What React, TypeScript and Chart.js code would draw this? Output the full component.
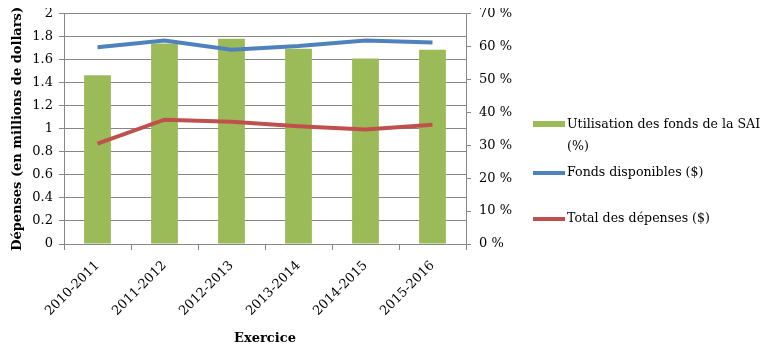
import React, { useEffect, useRef } from "react";
import { Chart, registerables } from "chart.js";

Chart.register(...registerables);

const categories = ["2010-2011", "2011-2012", "2012-2013", "2013-2014", "2014-2015", "2015-2016"];
const utilisationPct = [51.3, 61.0, 62.4, 59.4, 56.4, 59.1];
const fondsDisponibles = [1.71, 1.767, 1.687, 1.72, 1.767, 1.75];
const totalDepenses = [0.873, 1.08, 1.063, 1.023, 0.994, 1.037];
const leftTicks = ["0", "0.2", "0.4", "0.6", "0.8", "1", "1.2", "1.4", "1.6", "1.8", "2"];

const GREEN = "#9BBB59";
const BLUE = "#4F81BD";
const RED = "#C0504D";
const GRID = "#868686";
const FONT = "'DejaVu Serif', serif";

// canvas origin is at page (0, -2)
const legendPlugin = {
  id: "customLegend",
  afterDraw(chart: any) {
    const ctx = chart.ctx;
    ctx.save();
    ctx.font = `12.6px ${FONT}`;
    ctx.fillStyle = "#000";
    ctx.textBaseline = "middle";
    ctx.textAlign = "left";
    const x0 = 533;
    const tx = 567;
    const dy = 2;
    ctx.fillStyle = GREEN;
    ctx.fillRect(x0, 121 + dy, 32, 6);
    ctx.fillStyle = "#000";
    ctx.fillText("Utilisation des fonds de la SAI", tx, 125 + dy);
    ctx.fillText("(%)", tx, 147 + dy);
    ctx.strokeStyle = BLUE;
    ctx.lineWidth = 4;
    ctx.beginPath();
    ctx.moveTo(x0, 173 + dy);
    ctx.lineTo(x0 + 32, 173 + dy);
    ctx.stroke();
    ctx.fillText("Fonds disponibles ($)", tx, 173 + dy);
    ctx.strokeStyle = RED;
    ctx.beginPath();
    ctx.moveTo(x0, 219 + dy);
    ctx.lineTo(x0 + 32, 219 + dy);
    ctx.stroke();
    ctx.fillText("Total des dépenses ($)", tx, 219 + dy);
    ctx.restore();
  },
};

export default function App() {
  const ref = useRef<HTMLCanvasElement | null>(null);
  useEffect(() => {
    if (!ref.current) return;
    const chart = new Chart(ref.current, {
      type: "bar",
      data: {
        labels: categories,
        datasets: [
          {
            type: "line",
            label: "Fonds disponibles ($)",
            data: fondsDisponibles,
            borderColor: BLUE,
            backgroundColor: BLUE,
            borderWidth: 4,
            pointRadius: 0,
            tension: 0,
            yAxisID: "y",
            order: 1,
          },
          {
            type: "line",
            label: "Total des dépenses ($)",
            data: totalDepenses,
            borderColor: RED,
            backgroundColor: RED,
            borderWidth: 4,
            pointRadius: 0,
            tension: 0,
            yAxisID: "y",
            order: 0,
          },
          {
            type: "bar",
            label: "Utilisation des fonds de la SAI (%)",
            data: utilisationPct,
            backgroundColor: GREEN,
            borderWidth: 0,
            categoryPercentage: 1,
            barPercentage: 0.4,
            yAxisID: "y1",
            order: 2,
          },
        ],
      },
      options: {
        animation: false,
        responsive: false,
        maintainAspectRatio: false,
        layout: { padding: { top: 14, right: 246, left: 0, bottom: 0 } },
        plugins: { legend: { display: false }, tooltip: { enabled: false } },
        scales: {
          x: {
            offset: true,
            grid: {
              offset: true,
              drawOnChartArea: false,
              drawTicks: true,
              tickLength: 6,
              color: GRID,
            },
            border: { color: GRID },
            ticks: {
              minRotation: 45,
              maxRotation: 45,
              color: "#000",
              font: { family: FONT, size: 13 },
              padding: 8,
            },
            title: {
              display: true,
              text: "Exercice",
              color: "#000",
              font: { family: FONT, size: 13, weight: "bold" },
              padding: { top: 0, bottom: 2 },
            },
            afterFit(scale: any) {
              scale.height = 104;
            },
          },
          y: {
            position: "left",
            min: 0,
            max: 2,
            ticks: {
              stepSize: 0.2,
              color: "#000",
              font: { family: FONT, size: 13 },
              padding: 6,
              callback: (_v: any, i: number) => leftTicks[i],
            },
            grid: { color: GRID, tickLength: 5 },
            border: { color: GRID },
            title: {
              display: true,
              text: "Dépenses (en millions de dollars)",
              color: "#000",
              font: { family: FONT, size: 13, weight: "bold" },
              padding: { top: 10, bottom: 0 },
            },
            afterFit(scale: any) {
              scale.width = 64;
            },
          },
          y1: {
            position: "right",
            min: 0,
            max: 70,
            ticks: {
              stepSize: 10,
              color: "#000",
              font: { family: FONT, size: 13 },
              padding: 8,
              callback: (v: any) => `${v} %`,
            },
            grid: { drawOnChartArea: false, color: GRID, tickLength: 5 },
            border: { color: GRID },
            afterFit(scale: any) {
              scale.width = 60;
            },
          },
        },
      },
      plugins: [legendPlugin],
    });
    return () => chart.destroy();
  }, []);
  return (
    <div style={{ width: 772, height: 350, marginTop: -10, marginLeft: -8 }}>
      <canvas ref={ref} width={772} height={350} style={{ width: 772, height: 350, display: "block" }} />
    </div>
  );
}
